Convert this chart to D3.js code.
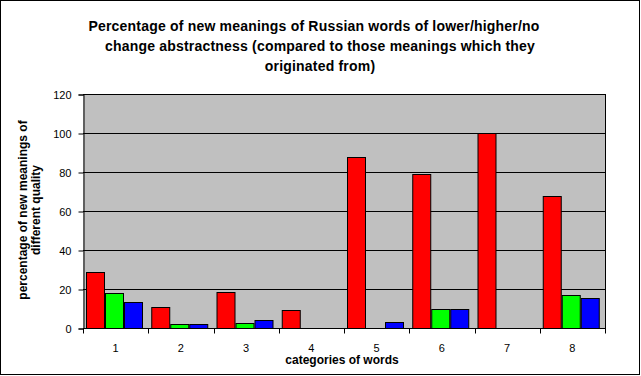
<!DOCTYPE html>
<html>
<head>
<meta charset="utf-8">
<script src="https://cdn.jsdelivr.net/npm/d3@7"></script>
<style>
  body { margin: 0; background: #fff; }
  text { font-family: "Liberation Sans", Arial, sans-serif; }
</style>
</head>
<body>
<div id="chart"></div>
<script>
// data
const categories = ["1", "2", "3", "4", "5", "6", "7", "8"];
const seriesNames = ["lower", "higher", "no change"];
const lowerValues = [28.6, 10.6, 18.3, 9.2, 87.5, 78.8, 100, 67.5];
const higherValues = [17.8, 1.9, 2.4, 0, 0, 9.9, 0, 16.8];
const noChangeValues = [13.2, 1.9, 4.1, 0, 2.9, 9.9, 0, 15.2];
const yTicks = [0, 20, 40, 60, 80, 100, 120];
const colors = ["#ff0000", "#00ff00", "#0000ff"];

const W = 641, H = 376;
const plot = { left: 83, right: 605, top: 94, bottom: 328 };

const svg = d3.select("#chart").append("svg")
    .attr("width", W)
    .attr("height", H);

// outer border
svg.append("rect")
    .attr("x", 0.5).attr("y", 0.5)
    .attr("width", 639).attr("height", 374)
    .attr("fill", "#fff")
    .attr("stroke", "#000");

const x = d3.scaleBand()
    .domain(categories)
    .range([plot.left, plot.right]);

const xInner = d3.scaleBand()
    .domain(seriesNames)
    .range([0, x.bandwidth()])
    .paddingInner(0.04)
    .paddingOuter(0.25)
    .align(0.3);

const y = d3.scaleLinear()
    .domain([0, 120])
    .range([plot.bottom, plot.top]);

// plot area
svg.append("rect")
    .attr("x", plot.left).attr("y", plot.top)
    .attr("width", plot.right - plot.left)
    .attr("height", plot.bottom - plot.top)
    .attr("fill", "#c0c0c0");

// gridlines
svg.append("g")
    .selectAll("line")
    .data(yTicks.filter(d => d > 0))
    .join("line")
    .attr("x1", plot.left).attr("x2", plot.right)
    .attr("y1", d => Math.round(y(d)) + 0.5)
    .attr("y2", d => Math.round(y(d)) + 0.5)
    .attr("stroke", "#000");

svg.append("line")
    .attr("x1", plot.right + 0.5).attr("x2", plot.right + 0.5)
    .attr("y1", plot.top).attr("y2", plot.bottom)
    .attr("stroke", "#000");

// bars
const rows = categories.map((c, i) => ({
    cat: c,
    vals: [lowerValues[i], higherValues[i], noChangeValues[i]]
}));

svg.append("g")
    .selectAll("g")
    .data(rows)
    .join("g")
    .attr("transform", d => `translate(${x(d.cat)},0)`)
    .selectAll("rect")
    .data(d => d.vals.map((v, j) => ({ key: seriesNames[j], v: v, color: colors[j] })).filter(d => d.v > 0))
    .join("rect")
    .attr("x", d => Math.round(xInner(d.key)) + 0.5)
    .attr("y", d => Math.round(y(d.v)) + 0.5)
    .attr("width", Math.round(xInner.bandwidth()))
    .attr("height", d => plot.bottom - Math.round(y(d.v)))
    .attr("fill", d => d.color)
    .attr("stroke", "#000");

// y axis
const yAxis = svg.append("g")
    .attr("transform", `translate(${plot.left + 0.5},0.5)`)
    .call(d3.axisLeft(y).tickValues(yTicks).tickSize(5).tickPadding(7));
yAxis.select(".domain").attr("stroke", "#000");
yAxis.selectAll("text").attr("font-size", 11).attr("fill", "#000")
    .style("font-family", "'Liberation Sans', Arial, sans-serif");

// x axis: ticks at category boundaries
const xg = svg.append("g")
    .attr("transform", `translate(0,${plot.bottom + 0.5})`);
xg.append("line")
    .attr("x1", plot.left).attr("x2", plot.right + 1)
    .attr("stroke", "#000");
xg.selectAll("line.tick")
    .data(categories.concat(["end"]))
    .join("line")
    .attr("class", "tick")
    .attr("x1", (d, i) => Math.round(plot.left + i * x.step()) + 0.5)
    .attr("x2", (d, i) => Math.round(plot.left + i * x.step()) + 0.5)
    .attr("y1", 0).attr("y2", 5)
    .attr("stroke", "#000");
xg.selectAll("text")
    .data(categories)
    .join("text")
    .attr("x", d => x(d) + x.bandwidth() / 2)
    .attr("y", 23)
    .attr("text-anchor", "middle")
    .attr("font-size", 11)
    .text(d => d);

// axis titles
svg.append("text")
    .attr("x", 342).attr("y", 364)
    .attr("text-anchor", "middle")
    .attr("font-size", 12)
    .attr("font-weight", "bold")
    .text("categories of words");

const yTitle = svg.append("text")
    .attr("transform", "translate(27,210)rotate(-90)")
    .attr("text-anchor", "middle")
    .attr("font-size", 12)
    .attr("font-weight", "bold");
yTitle.append("tspan").attr("x", 0).attr("dy", 0).text("percentage of new meanings of");
yTitle.append("tspan").attr("x", 0).attr("dy", 13).text("different quality");

// title
const titleLines = [
    "Percentage of new meanings of Russian words of lower/higher/no",
    "change abstractness (compared to those meanings which they",
    "originated from)"
];
svg.append("g")
    .selectAll("text")
    .data(titleLines)
    .join("text")
    .attr("x", (d, i) => i === 0 ? 314 : 320)
    .attr("y", (d, i) => 31 + i * 20)
    .attr("text-anchor", "middle")
    .attr("font-size", 14)
    .attr("letter-spacing", 0.2)
    .attr("font-weight", "bold")
    .text(d => d);
</script>
</body>
</html>
